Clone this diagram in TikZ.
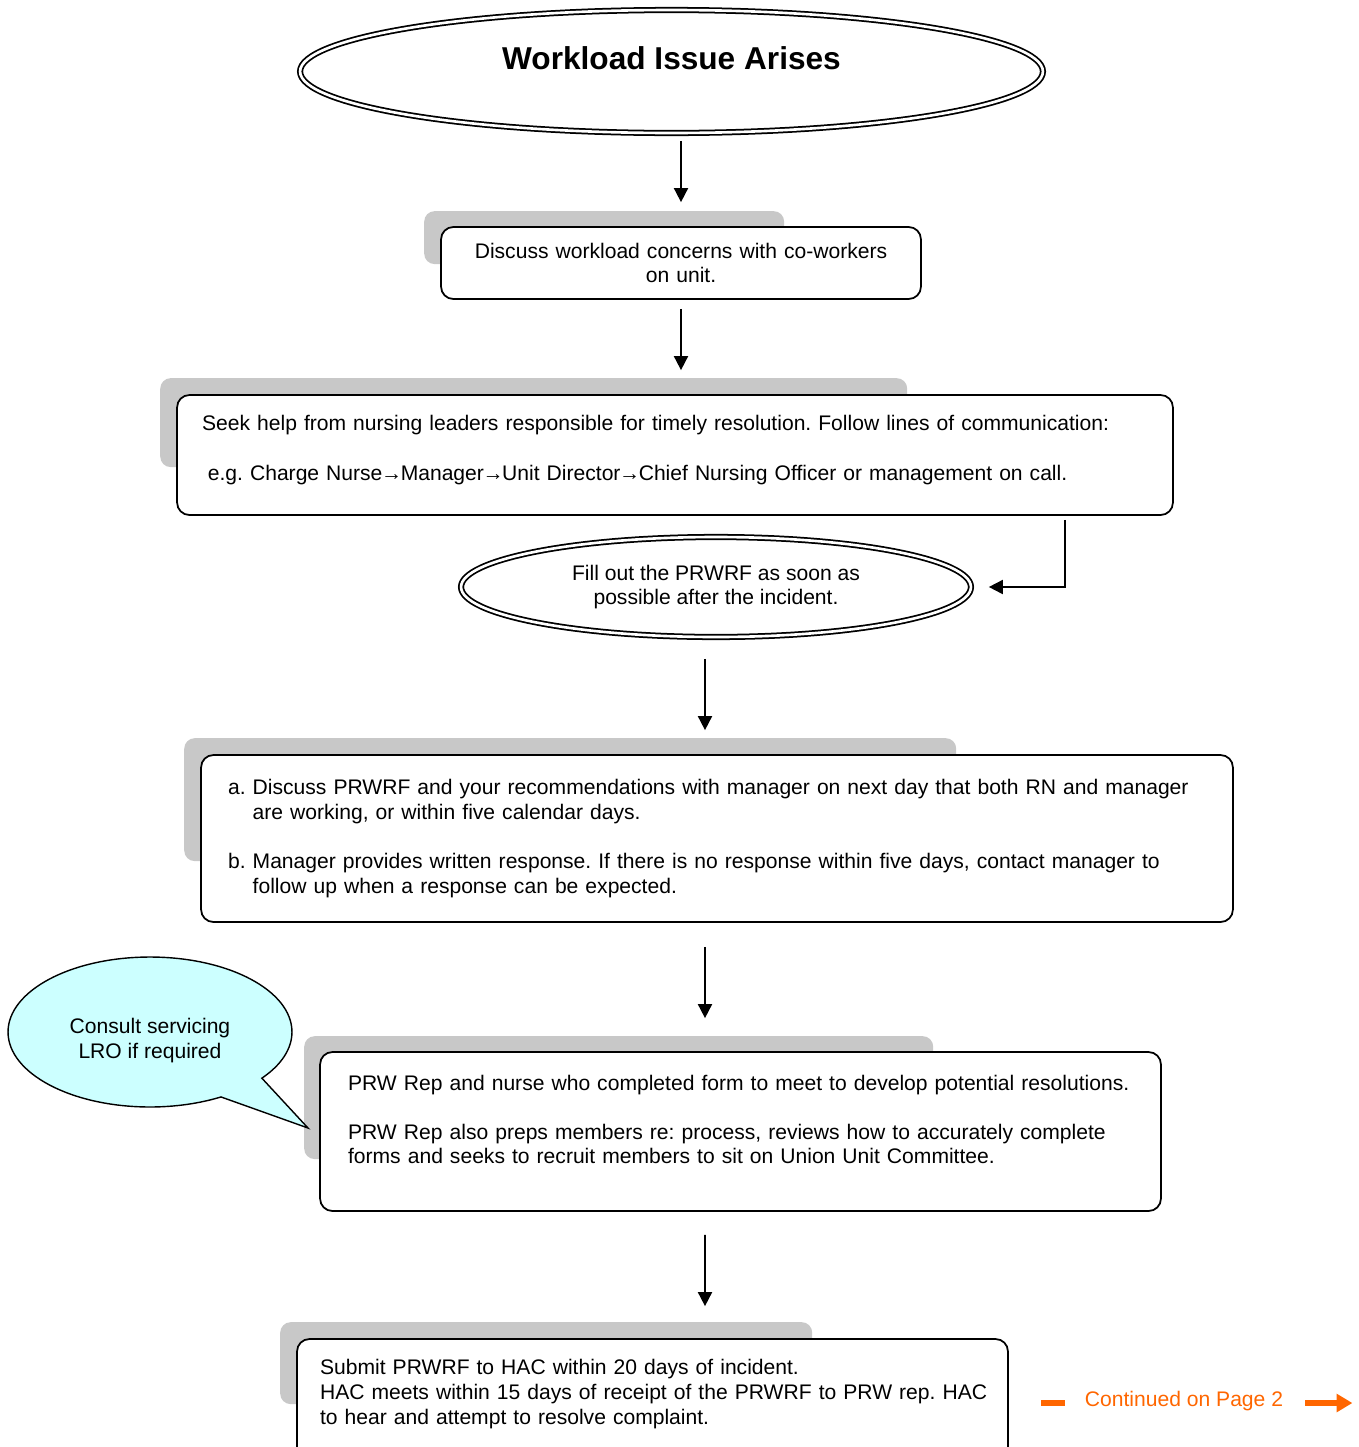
\documentclass[tikz,border=0pt]{standalone}
\usepackage{fontspec}
\setmainfont{Liberation Sans}
\usetikzlibrary{shapes, arrows.meta, positioning, backgrounds}
\frenchspacing

\definecolor{lrocyan}{HTML}{CCFFFF}
\definecolor{pageorange}{HTML}{FF6600}
\newcommand{\nextto}{\kern-0.8pt→\kern-0.8pt}

\begin{document}
\begin{tikzpicture}[x=0.02cm, y=-0.02cm,
 every node/.style={font=\fontsize{12}{14}\selectfont},
 box node/.style={draw, fill=white, line width=1pt, rounded corners=7pt,
   align=left, inner ysep=0pt},
 oval node/.style={ellipse, draw, double, double distance=1.5pt,
   line width=1pt, align=center, inner sep=0pt},
 tab/.style={fill=gray!43, rounded corners=6pt},
 flow/.style={-{Triangle[length=8pt,width=8pt]}, line width=1pt}]
 \useasboundingbox (0,0) rectangle (1359,1447);

 \node[oval node, minimum width=14.86cm, minimum height=2.46cm,
   font=\bfseries\fontsize{18}{22}\selectfont, text height=13pt, text depth=15pt]
   (issue) at (671.5,71.5) {Workload Issue Arises};
 \node[box node, align=center, text width=8.6cm, inner xsep=0.5cm, minimum height=1.44cm]
   (talk) at (681,263) {Discuss workload concerns with co-workers\\on unit.};
 \node[box node, text width=18.92cm, inner xsep=0.5cm, minimum height=2.4cm, text depth=36.1pt]
   (seek) at (675,455) {Seek help from nursing leaders responsible for timely resolution. Follow lines of communication:\\[14pt]
   \hspace*{3.3pt}e.g. Charge Nurse\nextto Manager\nextto Unit Director\nextto Chief Nursing Officer or management on call.};
 \node[oval node, minimum width=10.2cm, minimum height=2cm]
   (fill) at (716,587) {Fill out the PRWRF as soon as\\possible after the incident.};
 \node[box node, text width=19.56cm, inner xsep=0.54cm, minimum height=3.34cm]
   (meet) at (717,838.5) {a. Discuss PRWRF and your recommendations with manager on next day that both RN and manager\\
   \phantom{a.~}are working, or within five calendar days.\\[14pt]
   b. Manager provides written response. If there is no response within five days, contact manager to\\
   \phantom{b.~}follow up when a response can be expected.};
 \node[box node, text width=15.7cm, inner xsep=0.56cm, minimum height=3.18cm, text depth=55.8pt]
   (rep) at (740.5,1131.5) {PRW Rep and nurse who completed form to meet to develop potential resolutions.\\[14pt]
   PRW Rep also preps members re: process, reviews how to accurately complete\\
   forms and seeks to recruit members to sit on Union Unit Committee.};
 \node[box node, text width=13.3cm, inner xsep=0.46cm, minimum height=2.56cm, text depth=40.7pt]
   (hac) at (652.5,1403) {Submit PRWRF to HAC within 20 days of incident.\\
   \mbox{HAC meets within 15 days of receipt of the PRWRF to PRW rep. HAC}\\
   to hear and attempt to resolve complaint.};

 % speech bubble
 \coordinate (lrotip) at (308,1128);
 \node[ellipse callout, draw, fill=lrocyan, line width=0.8pt, align=center,
   minimum width=5.68cm, minimum height=3cm, callout absolute pointer={(lrotip)},
   callout pointer arc=22, text height=32.2pt]
   (lro) at (150,1032) {Consult servicing\\LRO if required};

 % grey tabs behind the boxes
 \begin{scope}[on background layer]
  \fill[tab] ([shift={(-16,-15)}]talk.north west) rectangle ++(360,53);
  \fill[tab] ([shift={(-16,-16)}]seek.north west) rectangle ++(747,89);
  \fill[tab] ([shift={(-16,-16)}]meet.north west) rectangle ++(772,123);
  \fill[tab] ([shift={(-15,-15)}]rep.north west) rectangle ++(629,123);
  \fill[tab] ([shift={(-16,-16)}]hac.north west) rectangle ++(532,82);
 \end{scope}

 \draw[flow] ([shift={(0,7)}]issue.south -| talk.north) -- ([shift={(0,-24)}]talk.north);
 \draw[flow] ([shift={(0,9)}]talk.south) -- ([shift={(0,-24)}]seek.north -| talk.south);
 \draw[flow] ([shift={(390,4)}]seek.south) |- ([shift={(17,0)}]fill.east);
 \draw[flow] ([shift={(-11,21)}]fill.south) -- ([shift={(-12,-24)}]meet.north);
 \draw[flow] ([shift={(-12,24)}]meet.south) -- ([shift={(-35.5,-33)}]rep.north);
 \draw[flow] ([shift={(-35.5,23)}]rep.south) -- ([shift={(52.5,-32)}]hac.north);

 % continued marker
 \node[text=pageorange, inner sep=0pt] (cont) at (1184,1401) {Continued on Page 2};
 \draw[pageorange, line width=3pt] ([shift={(-20,2)}]cont.west) -- ([shift={(-44,2)}]cont.west);
 \draw[pageorange, line width=3pt, -{Triangle[length=9pt,width=10pt]}]
   ([shift={(22,2)}]cont.east) -- ([shift={(69,2)}]cont.east);
\end{tikzpicture}
\end{document}
